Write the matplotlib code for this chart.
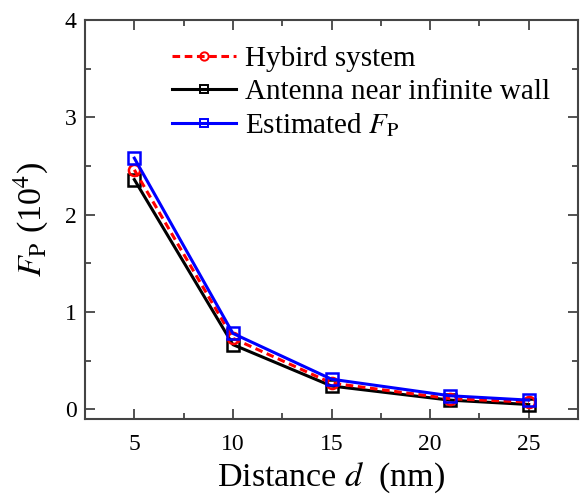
import matplotlib.pyplot as plt
from matplotlib.ticker import MultipleLocator

plt.rcParams['font.family'] = 'Liberation Serif'
plt.rcParams['mathtext.fontset'] = 'stix'

d = [5, 10, 15, 21, 25]
hybrid = [2.46, 0.73, 0.27, 0.11, 0.075]
wall = [2.36, 0.665, 0.24, 0.095, 0.05]
estimated = [2.58, 0.78, 0.31, 0.14, 0.095]

fig = plt.figure(figsize=(5.8, 4.96), dpi=100)
ax = fig.add_axes([0.1466, 0.155, 0.85, 0.805])

ax.plot(d, hybrid, '--o', color='red', lw=2.2, ms=8, mfc='none', mew=1.8,
        dashes=(2.5, 1.5), label='Hybird system', zorder=3)
ax.plot(d, wall, '-s', color='black', lw=2.2, ms=8, mfc='none', mew=1.8,
        label='Antenna near infinite wall', zorder=2)
ax.plot(d, estimated, '-s', color='blue', lw=2.2, ms=8, mfc='none', mew=1.8,
        label=r'Estimated $F_{\rm P}$', zorder=4)

ax.set_xlim(2.5, 27.5)
ax.set_ylim(-0.1, 4)
ax.xaxis.set_major_locator(MultipleLocator(5))
ax.xaxis.set_minor_locator(MultipleLocator(2.5))
ax.yaxis.set_major_locator(MultipleLocator(1))
ax.yaxis.set_minor_locator(MultipleLocator(0.5))
ax.tick_params(which='both', direction='in', top=True, right=True,
               width=1.3, color='#444444', labelsize=17)
ax.tick_params(which='major', length=7)
ax.tick_params(which='minor', length=4)
ax.tick_params(axis='x', which='major', pad=11)
ax.tick_params(axis='y', which='major', pad=6)
for s in ax.spines.values():
    s.set_linewidth(1.5)
    s.set_color('#444444')

ax.set_xlabel(r'Distance $d$  (nm)', fontsize=24.5, labelpad=3.5)
ax.set_ylabel(r'$F_{\rm P}$ (10$^4$)', fontsize=24.5, labelpad=10)

leg = ax.legend(loc='upper left', bbox_to_anchor=(0.152, 0.965), frameon=False,
                fontsize=21, handlelength=2.2, handletextpad=0.3,
                labelspacing=0.22, borderaxespad=0)
for h in leg.legend_handles:
    h.set_markersize(6)
    h.set_markeredgewidth(1.4)

fig.savefig('out.png', dpi=100)
